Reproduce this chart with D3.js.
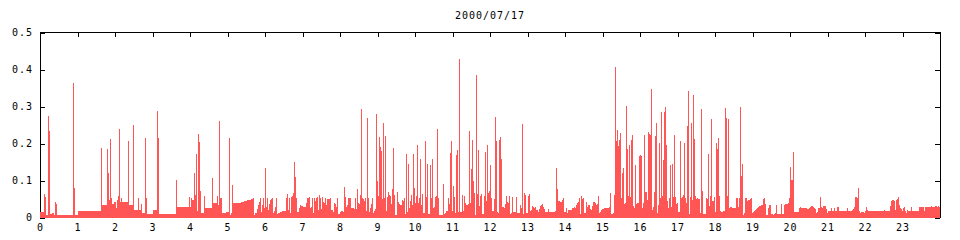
<!doctype html>
<html>
<head>
<meta charset="utf-8">
<style>
  body { margin: 0; background: #fff; }
  svg text { font-family: "DejaVu Sans Mono", monospace; font-size: 10px; letter-spacing: 1px; fill: #000; }
  .load { fill: #ff5555; shape-rendering: crispEdges; }
</style>
<script src="https://cdn.jsdelivr.net/npm/d3@7"></script>
</head>
<body>
<svg id="chart" width="960" height="240"></svg>
<script>
// one sample every 96 s (900 samples per day); each entry = [sample index, value], held until the next entry
var SAMPLE_SEC = 96;
var title = "2000/07/17";
var xTicks = [0,1,2,3,4,5,6,7,8,9,10,11,12,13,14,15,16,17,18,19,20,21,22,23];
var yTicks = [0, 0.1, 0.2, 0.3, 0.4, 0.5];
var yTickLabels = ["0", "0.1", "0.2", "0.3", "0.4", "0.5"];

var steps = [
 [0,.015],[4,.063],[5,.056],[6,.007],[8,.274],[9,.234],[10,.009],[12,.012],[14,.007],[15,.042],[16,.036],[17,.007],
 [33,.363],[34,.08],[35,.007],[38,.018],[61,.188],[62,.034],[67,.185],[68,.12],[69,.047],[70,.212],[71,.053],[72,.036],
 [74,.042],[76,.026],[77,.047],[78,.058],[79,.239],[80,.042],[81,.053],[82,.042],[88,.207],[89,.034],[93,.25],[94,.02],
 [98,.053],[99,.02],[101,.036],[102,.012],[105,.215],[106,.053],[107,.009],[113,.02],[117,.288],[118,.215],[119,.009],
 [136,.101],[137,.028],[149,.055],[150,.028],[151,.053],[152,.047],[154,.12],[155,.061],[156,.172],[157,.018],[158,.226],
 [159,.204],[160,.072],[161,.012],[164,.058],[165,.026],[172,.107],[173,.039],[177,.058],[178,.034],[179,.261],[180,.053],
 [182,.012],[186,.015],[189,.215],[190,.007],[191,.012],[192,.088],[193,.039],[201,.042],[204,.045],[207,.047],[211,.05],
 [213,.053],[214,.007],[215,.012],[217,.023],[218,.034],[219,.042],[220,.053],[221,.015],[222,.034],[223,.053],[224,.026],
 [225,.134],[226,.028],[227,.053],[228,.02],[229,.036],[230,.047],[231,.05],[232,.053],[233,.012],[234,.018],[235,.028],
 [236,.053],[237,.009],[238,.012],[240,.015],[242,.018],[246,.053],[247,.063],[248,.02],[249,.053],[250,.012],[251,.055],
 [252,.058],[253,.066],[254,.15],[255,.109],[256,.053],[257,.015],[259,.026],[260,.034],[261,.031],[263,.028],[266,.039],
 [267,.053],[269,.055],[270,.026],[271,.028],[272,.053],[273,.012],[274,.053],[275,.045],[276,.053],[277,.055],[278,.02],
 [279,.061],[280,.053],[281,.023],[282,.055],[283,.042],[284,.039],[285,.053],[286,.034],[287,.05],[290,.053],[291,.02],
 [293,.015],[294,.039],[295,.036],[296,.028],[297,.053],[298,.009],[300,.015],[301,.018],[303,.015],[304,.082],[305,.055],
 [306,.028],[307,.034],[308,.053],[311,.026],[314,.023],[315,.053],[316,.023],[317,.077],[318,.039],[319,.036],[320,.061],
 [321,.293],[322,.053],[323,.05],[324,.045],[325,.053],[326,.018],[327,.269],[328,.053],[329,.015],[330,.026],[331,.036],
 [332,.053],[333,.012],[334,.018],[335,.023],[336,.28],[337,.099],[338,.058],[339,.218],[340,.19],[341,.18],[342,.05],
 [343,.255],[344,.053],[345,.22],[346,.018],[347,.055],[348,.069],[349,.061],[350,.058],[351,.036],[352,.077],[353,.188],
 [354,.061],[355,.007],[357,.069],[358,.042],[359,.036],[360,.034],[362,.047],[363,.045],[364,.053],[365,.009],[366,.172],
 [367,.015],[368,.145],[369,.026],[370,.045],[371,.061],[372,.034],[373,.172],[374,.08],[375,.039],[376,.058],[377,.196],
 [378,.039],[379,.053],[380,.158],[381,.034],[382,.064],[383,.012],[385,.207],[386,.055],[387,.145],[388,.009],[390,.142],
 [391,.053],[392,.158],[393,.026],[394,.028],[395,.055],[396,.058],[397,.239],[398,.053],[399,.007],[403,.09],[404,.009],
 [405,.012],[406,.018],[408,.053],[409,.036],[410,.174],[411,.207],[412,.018],[413,.085],[414,.055],[415,.012],[416,.169],
 [417,.182],[418,.015],[419,.428],[420,.015],[422,.061],[423,.018],[424,.058],[425,.039],[426,.034],[428,.036],[429,.234],
 [430,.039],[431,.131],[432,.209],[433,.099],[434,.066],[435,.007],[436,.385],[437,.064],[438,.182],[439,.031],[440,.058],
 [441,.064],[442,.009],[444,.058],[445,.177],[446,.045],[447,.196],[448,.066],[449,.072],[450,.142],[451,.053],[452,.018],
 [454,.05],[455,.272],[456,.207],[457,.015],[458,.012],[459,.209],[460,.218],[461,.158],[462,.028],[464,.026],[465,.036],
 [466,.058],[467,.042],[468,.039],[469,.058],[470,.009],[471,.012],[472,.055],[473,.015],[476,.055],[477,.012],[480,.034],
 [481,.026],[482,.253],[483,.009],[484,.066],[485,.061],[486,.012],[488,.058],[489,.064],[490,.018],[491,.02],[492,.031],
 [493,.028],[494,.026],[495,.028],[496,.02],[498,.015],[499,.023],[500,.031],[501,.034],[502,.036],[503,.028],[504,.023],
 [505,.015],[508,.023],[509,.015],[515,.018],[516,.134],[517,.077],[518,.045],[520,.042],[522,.047],[523,.053],[524,.015],
 [526,.026],[527,.012],[528,.02],[532,.026],[534,.028],[535,.026],[536,.034],[537,.039],[538,.042],[539,.053],[540,.009],
 [541,.058],[542,.05],[543,.053],[544,.012],[546,.042],[547,.028],[548,.034],[550,.023],[551,.02],[552,.031],[553,.042],
 [555,.039],[556,.034],[557,.036],[558,.058],[559,.012],[560,.015],[561,.02],[562,.023],[564,.026],[569,.028],[570,.066],
 [571,.009],[573,.012],[574,.061],[575,.407],[576,.207],[577,.236],[578,.193],[579,.209],[580,.228],[581,.053],[582,.12],
 [583,.134],[584,.036],[585,.039],[586,.301],[587,.185],[588,.058],[589,.196],[590,.055],[591,.209],[592,.223],[593,.031],
 [594,.026],[595,.142],[596,.036],[597,.039],[599,.166],[600,.169],[601,.166],[602,.026],[603,.039],[604,.223],[605,.069],
 [607,.047],[608,.231],[609,.226],[610,.223],[611,.347],[612,.02],[613,.028],[614,.069],[615,.22],[616,.255],[617,.012],
 [618,.034],[619,.201],[620,.053],[621,.285],[622,.058],[623,.155],[624,.285],[625,.299],[626,.196],[627,.045],[628,.026],
 [629,.053],[630,.142],[631,.028],[632,.145],[633,.055],[634,.223],[635,.055],[636,.036],[637,.039],[638,.015],[640,.207],
 [641,.053],[642,.055],[643,.061],[644,.201],[645,.053],[646,.039],[647,.247],[648,.342],[649,.009],[650,.055],[651,.255],
 [652,.047],[653,.331],[654,.212],[655,.058],[656,.05],[657,.053],[658,.05],[660,.012],[661,.293],[662,.072],[663,.009],
 [666,.053],[667,.05],[668,.172],[669,.031],[670,.058],[671,.266],[672,.045],[674,.055],[675,.015],[676,.201],[677,.185],
 [678,.215],[679,.058],[680,.018],[681,.015],[683,.018],[685,.296],[686,.269],[687,.058],[688,.266],[689,.026],[690,.028],
 [692,.026],[696,.053],[698,.028],[699,.053],[700,.299],[701,.112],[702,.145],[703,.007],[704,.012],[705,.053],[707,.045],
 [708,.047],[710,.05],[711,.053],[712,.012],[713,.015],[714,.018],[715,.02],[716,.023],[717,.026],[718,.028],[719,.031],
 [721,.034],[723,.05],[724,.053],[725,.036],[726,.007],[728,.026],[729,.034],[731,.009],[733,.007],[734,.009],[735,.012],
 [736,.034],[737,.009],[741,.036],[742,.009],[744,.034],[745,.036],[748,.039],[749,.053],[750,.136],[751,.101],[753,.177],
 [754,.015],[759,.026],[760,.028],[761,.026],[767,.023],[769,.026],[770,.028],[771,.031],[773,.028],[774,.026],[775,.023],
 [776,.012],[777,.015],[778,.026],[780,.055],[781,.028],[782,.026],[783,.031],[786,.023],[787,.012],[788,.018],[791,.026],
 [792,.018],[794,.026],[795,.018],[797,.028],[799,.018],[807,.026],[808,.018],[812,.02],[813,.023],[814,.028],[815,.055],
 [817,.053],[818,.08],[819,.018],[820,.012],[821,.015],[824,.012],[825,.018],[826,.028],[827,.02],[828,.018],[844,.02],
 [845,.018],[850,.031],[851,.045],[852,.047],[854,.045],[855,.02],[856,.047],[857,.05],[858,.055],[859,.034],[860,.026],
 [861,.023],[862,.018],[863,.026],[864,.028],[865,.018],[866,.012],[867,.02],[868,.018],[871,.028],[872,.018],[879,.028],
 [884,.018],[885,.028],[891,.031],[892,.028],[895,.031],[897,.028],[898,.031],[899,.028]
];

var svg = d3.select("#chart"),
    plotLeft = 40, plotRight = 940, plotTop = 32.5, plotBottom = 217.5;

var x = d3.scaleLinear().domain([0, 24]).range([plotLeft, plotRight]);
var y = d3.scaleLinear().domain([0, 0.5]).range([plotBottom, plotTop]);

var pts = steps.map(function(d) { return { t: d[0] * SAMPLE_SEC / 3600, v: d[1] }; });
pts.push({ t: 24, v: steps[steps.length - 1][1] });

svg.append("text")
   .attr("x", (plotLeft + plotRight) / 2)
   .attr("y", 19)
   .attr("text-anchor", "middle")
   .text(title);

// frame
svg.append("rect")
   .attr("x", plotLeft + 0.5).attr("y", plotTop)
   .attr("width", plotRight - plotLeft).attr("height", plotBottom - plotTop)
   .attr("fill", "none").attr("stroke", "#000")
   .attr("shape-rendering", "crispEdges");

function styleAxis(g) {
    g.select(".domain").remove();
    g.selectAll("line").attr("stroke", "#000").attr("shape-rendering", "crispEdges");
    g.attr("font-family", null).attr("font-size", null);
}

// tick labels below, ticks on top edge pointing down
svg.append("g")
   .attr("transform", "translate(0," + plotBottom + ")")
   .call(d3.axisBottom(x).tickValues(xTicks).tickSize(0).tickPadding(6).tickFormat(function(d) { return d; }))
   .call(styleAxis);

svg.append("g")
   .attr("transform", "translate(0," + (plotTop - 0.5) + ")")
   .call(d3.axisTop(x).tickValues(xTicks).tickSize(-5).tickFormat(""))
   .call(styleAxis);

svg.append("g")
   .attr("transform", "translate(" + plotLeft + ",0)")
   .call(d3.axisLeft(y).tickValues(yTicks).tickSize(-5).tickPadding(7)
         .tickFormat(function(d, i) { return yTickLabels[i]; }))
   .call(styleAxis);

svg.append("g")
   .attr("transform", "translate(" + plotRight + ",0)")
   .call(d3.axisRight(y).tickValues(yTicks).tickSize(-5).tickFormat(""))
   .call(styleAxis);

// the data, drawn over the frame like the original
var area = d3.area()
    .curve(d3.curveStepAfter)
    .x(function(d) { return x(d.t); })
    .y0(y(0) + 0.5)
    .y1(function(d) { return y(d.v); });

svg.append("path")
   .datum(pts)
   .attr("class", "load")
   .attr("d", area);
</script>
</body>
</html>
